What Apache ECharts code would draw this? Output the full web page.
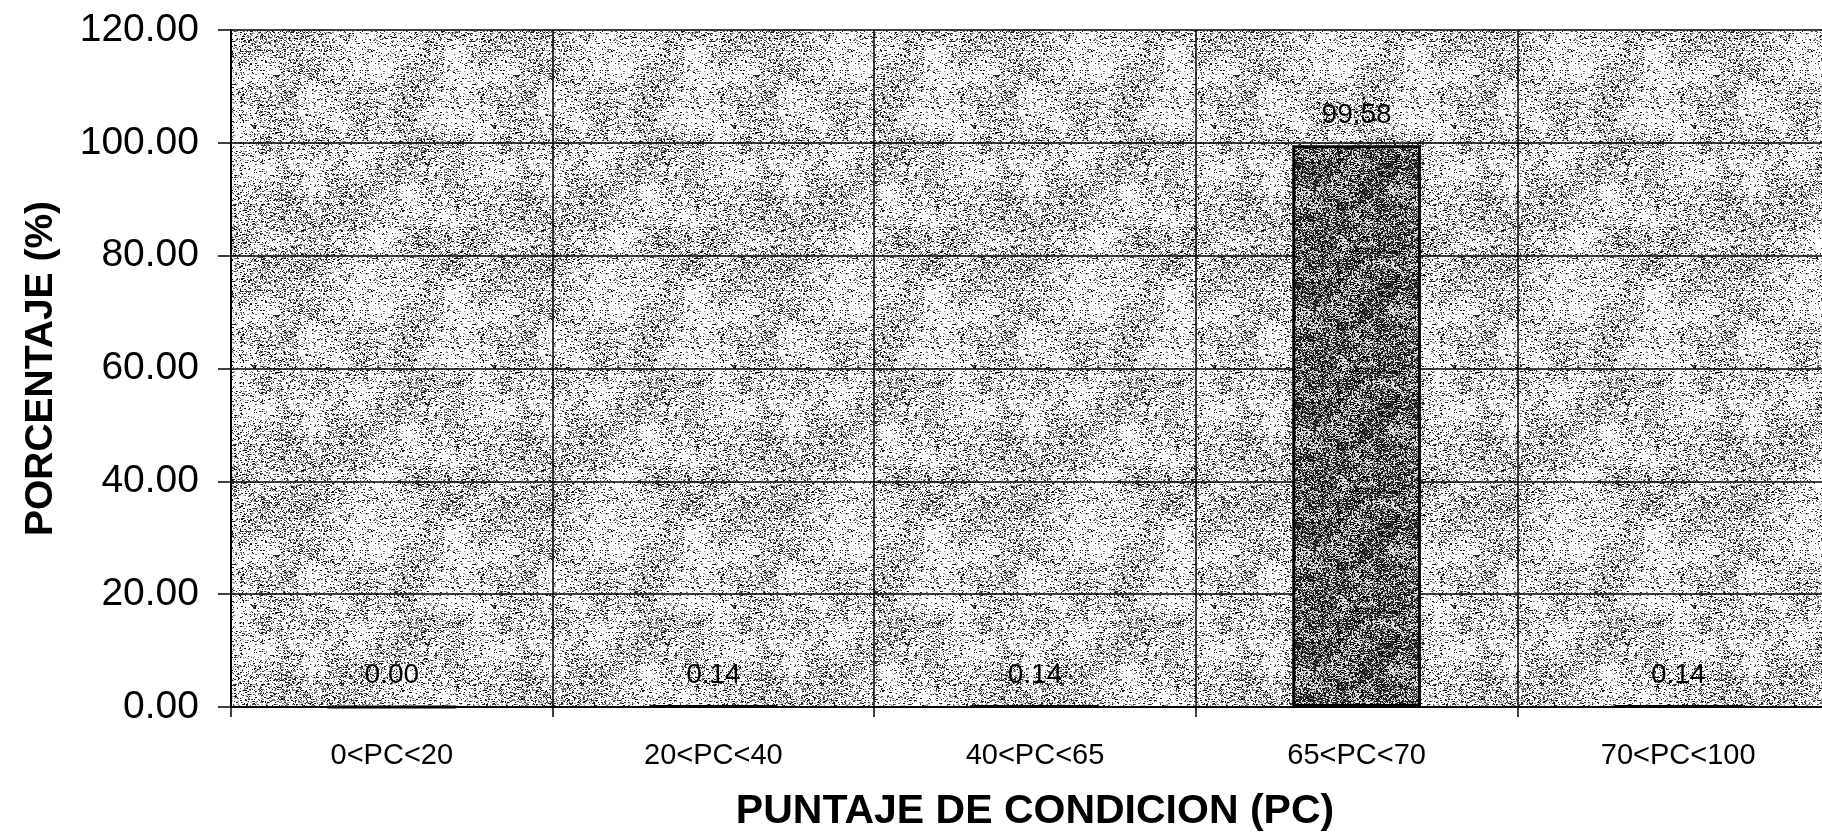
<!DOCTYPE html>
<html>
<head>
<meta charset="utf-8">
<title>Puntaje de condicion</title>
<script src="https://cdn.jsdelivr.net/npm/echarts@6/dist/echarts.min.js"></script>
<style>
  html, body { margin: 0; padding: 0; background: #fff; }
  #chart { width: 1822px; height: 835px; }
</style>
</head>
<body>
<div id="chart"></div>
<script>
// Condition-score ranges and the share of sections in each one (%)
const categories = ['0<PC<20', '20<PC<40', '40<PC<65', '65<PC<70', '70<PC<100'];
const porcentajes = [0.00, 0.14, 0.14, 99.58, 0.14];
const yTicks = { min: 0, max: 120, interval: 20 };

// Seeded generator so the stipple texture is the same on every load
function makeRng(seed) {
  let s = seed >>> 0;
  return () => {
    s = (s + 0x6D2B79F5) >>> 0;
    let t = s;
    t = Math.imul(t ^ (t >>> 15), t | 1);
    t ^= t + Math.imul(t ^ (t >>> 7), t | 61);
    return ((t ^ (t >>> 14)) >>> 0) / 4294967296;
  };
}

// Tileable speckle fill: blotchy density field + dark/grey dots on a light base
function stipple(size, cell, seed, baseDensity, blotch, bg, darkShare) {
  const rnd = makeRng(seed);
  const n = size / cell;
  const lattice = [];
  for (let i = 0; i < n * n; i++) lattice.push(rnd() * 2 - 1);
  const at = (i, j) => lattice[((j % n + n) % n) * n + ((i % n + n) % n)];
  const smooth = t => t * t * (3 - 2 * t);
  const field = (x, y) => {
    const gx = x / cell, gy = y / cell;
    const i = Math.floor(gx), j = Math.floor(gy);
    const fx = smooth(gx - i), fy = smooth(gy - j);
    const a = at(i, j) * (1 - fx) + at(i + 1, j) * fx;
    const b = at(i, j + 1) * (1 - fx) + at(i + 1, j + 1) * fx;
    return a * (1 - fy) + b * fy;
  };
  const c = document.createElement('canvas');
  c.width = size; c.height = size;
  const ctx = c.getContext('2d');
  const img = ctx.createImageData(size, size);
  const px = new Float32Array(size * size).fill(bg);
  for (let y = 0; y < size; y++) {
    for (let x = 0; x < size; x++) {
      const p = Math.max(0, Math.min(1, baseDensity + blotch * field(x, y)));
      if (rnd() < p) {
        const v = rnd() < darkShare ? rnd() * 60 : 90 + rnd() * 100;
        px[y * size + x] = Math.min(px[y * size + x], v);
        if (rnd() < 0.3) {
          const k = y * size + ((x + 1) % size);
          px[k] = Math.min(px[k], v);
        }
      }
    }
  }
  for (let k = 0; k < size * size; k++) {
    const i = k * 4;
    img.data[i] = img.data[i + 1] = img.data[i + 2] = px[k];
    img.data[i + 3] = 255;
  }
  ctx.putImageData(img, 0, 0);
  return c;
}

const plotTexture = stipple(240, 24, 12345, 0.24, 0.16, 255, 0.45);
const barTexture = stipple(120, 12, 987, 0.62, 0.22, 225, 0.75);

const chart = echarts.init(document.getElementById('chart'), null, { renderer: 'canvas' });

chart.setOption({
  animation: false,
  backgroundColor: '#ffffff',
  textStyle: { fontFamily: 'Liberation Sans, Arial, sans-serif', color: '#000' },
  grid: {
    left: 231, right: -17, top: 30, bottom: 128,
    outerBoundsMode: 'none',
    containLabel: false,
    show: true,
    backgroundColor: { image: plotTexture, repeat: 'repeat' },
    borderWidth: 0
  },
  xAxis: {
    type: 'category',
    data: categories,
    boundaryGap: true,
    name: 'PUNTAJE DE CONDICION (PC)',
    nameLocation: 'middle',
    nameGap: 84,
    nameTextStyle: { fontSize: 41, fontWeight: 'bold', color: '#000', fontFamily: 'Liberation Sans, Arial, sans-serif' },
    axisLine: { show: true, lineStyle: { color: '#000', width: 2 } },
    axisTick: { show: true, length: 10, lineStyle: { color: '#000', width: 1.5 } },
    axisLabel: { fontSize: 29, color: '#000', margin: 34 },
    splitLine: { show: true, lineStyle: { color: '#000', width: 1.5 } }
  },
  yAxis: {
    type: 'value',
    min: yTicks.min, max: yTicks.max, interval: yTicks.interval,
    name: 'PORCENTAJE (%)',
    nameLocation: 'middle',
    nameGap: 170,
    nameRotate: 90,
    nameTextStyle: { fontSize: 39, fontWeight: 'bold', color: '#000', fontFamily: 'Liberation Sans, Arial, sans-serif' },
    axisLine: { show: true, lineStyle: { color: '#000', width: 2 } },
    axisTick: { show: true, length: 13, lineStyle: { color: '#000', width: 1.5 } },
    axisLabel: {
      fontSize: 39, color: '#000', margin: 32,
      formatter: v => v.toFixed(2)
    },
    splitLine: { show: true, lineStyle: { color: '#000', width: 1.5 } }
  },
  series: [{
    type: 'bar',
    data: porcentajes,
    barWidth: '40%',
    itemStyle: {
      color: { image: barTexture, repeat: 'repeat' },
      borderColor: '#000',
      borderWidth: 3
    },
    label: {
      show: true,
      position: 'top',
      distance: 16,
      fontSize: 28,
      color: '#000',
      formatter: p => p.value.toFixed(2)
    }
  }]
});
</script>
</body>
</html>
